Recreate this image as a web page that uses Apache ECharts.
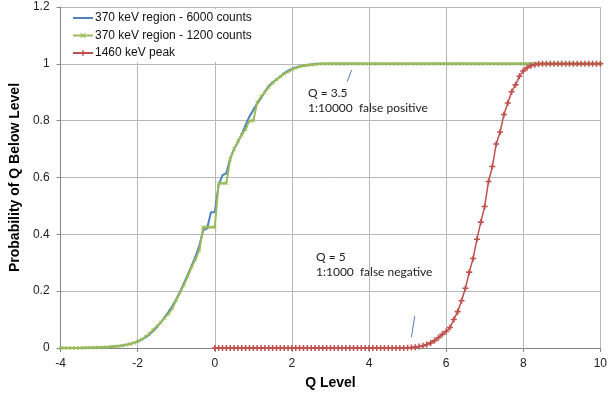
<!DOCTYPE html>
<html>
<head>
<meta charset="utf-8">
<script src="https://cdn.jsdelivr.net/npm/echarts@6/dist/echarts.min.js"></script>
<style>
html,body{margin:0;padding:0;background:#fff;}
#chart{width:610px;height:400px;}
</style>
</head>
<body>
<div id="chart"></div>
<script>
// Q grid: start and step of the sampled Q levels
var qStart = -4.0;
var qStep = 0.1;
var redStart = 0.0;

var seriesNames = ['370 keV region - 6000 counts', '370 keV region - 1200 counts', '1460 keV peak'];

// 370 keV region - 6000 counts, Q = -4.0 ... 10.0
var blue6000 = [
  0,0,0,0,0,0,
  0.001,0.001,0.001,0.001,0.002,0.002,0.003,0.004,0.005,0.007,
  0.009,0.011,0.014,0.018,0.023,0.029,0.037,0.047,0.06,0.074,
  0.09,0.108,0.127,0.148,0.172,0.198,0.228,0.258,0.29,0.322,
  0.36,0.415,0.42,0.478,0.478,0.575,0.608,0.615,0.668,0.7,
  0.725,0.752,0.785,0.815,0.838,0.86,0.88,0.902,0.922,0.935,
  0.945,0.955,0.967,0.976,0.982,0.987,0.991,0.994,0.996,0.998,0.999,
  1,1,1,1,1,1,1,1,1,1,1,1,1,1,1,1,1,1,1,1,1,1,1,1,1,1,1,1,1,1,1,1,1,1,1,1,1,1,1,1,
  1,1,1,1,1,1,1,1,1,1,1,1,1,1,1,1,1,1,1,1,1,1,1,1,1,1,1,1,1,1,1,1,1,1,1,1,1,1,1,1,
  1,1,1,1,1,1,1,1,1,1,1,1,1,1,1,1,1,1,1,1,1,1,1,1,1,1,1,1,1,1,1,1,1,1,1,1,1,1,1,1
];

// 370 keV region - 1200 counts, Q = -4.0 ... 10.0
var green1200 = [
  0,0,0,0,0,0,
  0.001,0.001,0.001,0.002,0.002,0.003,0.003,0.004,0.005,0.006,
  0.008,0.011,0.014,0.018,0.023,0.03,0.04,0.05,0.064,0.077,
  0.09,0.106,0.12,0.14,0.168,0.195,0.222,0.252,0.285,0.312,
  0.345,0.425,0.425,0.425,0.425,0.58,0.58,0.58,0.665,0.7,
  0.728,0.75,0.77,0.8,0.8,0.865,0.885,0.9,0.918,0.932,
  0.945,0.955,0.965,0.972,0.98,0.985,0.99,0.993,0.995,0.997,0.998,0.999,
  1,1,1,1,1,1,1,1,1,1,1,1,1,1,1,1,1,1,1,1,1,1,1,1,1,1,1,1,1,1,1,1,1,1,1,1,1,1,1,1,
  1,1,1,1,1,1,1,1,1,1,1,1,1,1,1,1,1,1,1,1,1,1,1,1,1,1,1,1,1,1,1,1,1,1,1,1,1,1,1,1,
  1,1,1,1,1,1,1,1,1,1,1,1,1,1,1,1,1,1,1,1,1,1,1,1,1,1,1,1,1,1,1,1,1,1,1,1,1,1,1,1
];

// 1460 keV peak, Q = 0.0 ... 10.0
var red1460 = [
  0,0,0,0,0,0,0,0,0,0,
  0,0,0,0,0,0,0,0,0,0,
  0,0,0,0,0,0,0,0,0,0,
  0,0,0,0,0,0,0,0,0,0,
  0,0,0,0,0,0,0,0,0,0,
  0.001,0.002,0.003,0.005,0.008,0.012,0.018,0.026,0.036,0.048,
  0.058,0.072,0.1,0.128,0.166,0.21,0.267,0.315,0.383,0.443,
  0.498,0.586,0.639,0.718,0.76,0.822,0.862,0.902,0.926,0.956,
  0.975,0.986,0.993,0.997,0.999,1,1,1,1,1,
  1,1,1,1,1,1,1,1,1,1,
  1
];

// annotations: [text lines], pointer segment in data coords
var annoTexts = [['Q = 3.5', '1:10000  false positive'], ['Q = 5', '1:1000  false negative']];
var annoPointers = [[[3.435, 0.937], [3.549, 0.978]], [[5.10, 0.038], [5.187, 0.113]]];

function pairs(start, vals) {
  var out = [];
  for (var i = 0; i < vals.length; i++) {
    out.push([Math.round((start + i * qStep) * 10) / 10, vals[i]]);
  }
  return out;
}

var chart = echarts.init(document.getElementById('chart'), null, {renderer: 'canvas'});
var font = 'Liberation Sans, Arial, sans-serif';
var annoFont = 'Lato, Carlito, sans-serif';

var option = {
  animation: false,
  backgroundColor: '#fff',
  grid: {left: 60, right: 9, top: 7, bottom: 52, containLabel: false},
  legend: {
    left: 62, top: 9, orient: 'vertical',
    backgroundColor: '#fff',
    padding: [3, 40, 3, 10],
    itemGap: 5.5, itemWidth: 20, itemHeight: 7,
    textStyle: {fontFamily: font, fontSize: 12, color: '#111', padding: [0, 0, 0, -3]},
    data: [
      {name: seriesNames[0], itemStyle: {opacity: 0}},
      {name: seriesNames[1]},
      {name: seriesNames[2]}
    ]
  },
  xAxis: {
    type: 'value', min: -4, max: 10, interval: 2,
    name: 'Q Level', nameLocation: 'middle', nameGap: 28,
    nameTextStyle: {fontFamily: font, fontSize: 14, fontWeight: 'bold', color: '#000'},
    axisLine: {show: true, onZero: false, lineStyle: {color: '#868686'}},
    axisTick: {show: true, length: 4, lineStyle: {color: '#868686'}},
    axisLabel: {fontFamily: font, fontSize: 12, color: '#222', margin: 10},
    splitLine: {show: true, lineStyle: {color: '#b8b8b8', width: 1}}
  },
  yAxis: {
    type: 'value', min: 0, max: 1.2, interval: 0.2,
    name: 'Probability of Q Below Level', nameLocation: 'middle', nameGap: 36,
    nameTextStyle: {fontFamily: font, fontSize: 14, fontWeight: 'bold', color: '#000'},
    axisLine: {show: true, onZero: false, lineStyle: {color: '#868686'}},
    axisTick: {show: true, length: 4, lineStyle: {color: '#868686'}},
    axisLabel: {fontFamily: font, fontSize: 12, color: '#222', margin: 11},
    splitLine: {show: true, lineStyle: {color: '#b8b8b8', width: 1}}
  },
  series: [
    {
      name: seriesNames[0], type: 'line', data: pairs(qStart, blue6000),
      showSymbol: false, symbol: 'none',
      lineStyle: {color: '#4F81BD', width: 2}, itemStyle: {color: '#4F81BD'},
      z: 2,
      markLine: {
        silent: true, symbol: ['none', 'none'], label: {show: false},
        lineStyle: {color: '#4F81BD', width: 1, type: 'solid'},
        data: [
          [{coord: annoPointers[0][0]}, {coord: annoPointers[0][1]}],
          [{coord: annoPointers[1][0]}, {coord: annoPointers[1][1]}]
        ]
      }
    },
    {
      name: seriesNames[1], type: 'line', data: pairs(qStart, green1200),
      symbol: 'path://M0,0L2,2L4,0L4.6,0.6L2.6,2.6L4.6,4.6L4,5.2L2,3.2L0,5.2L-0.6,4.6L1.4,2.6L-0.6,0.6Z',
      symbolSize: 4, showSymbol: true,
      lineStyle: {color: '#9BBB59', width: 2}, itemStyle: {color: '#9BBB59'},
      z: 3
    },
    {
      name: seriesNames[2], type: 'line', data: pairs(redStart, red1460),
      symbol: 'path://M2,0H3.4V2H5.4V3.4H3.4V5.4H2V3.4H0V2H2Z',
      symbolSize: 6, showSymbol: true,
      lineStyle: {color: '#C0504D', width: 1.5}, itemStyle: {color: '#C0504D'},
      z: 4
    }
  ],
  graphic: [
    {type: 'text', left: 308, top: 86, style: {text: annoTexts[0].join('\n'), font: '12px ' + annoFont, fill: '#222', lineHeight: 15}},
    {type: 'text', left: 316, top: 250, style: {text: annoTexts[1].join('\n'), font: '12px ' + annoFont, fill: '#222', lineHeight: 15}}
  ]
};
chart.setOption(option);
</script>
</body>
</html>
